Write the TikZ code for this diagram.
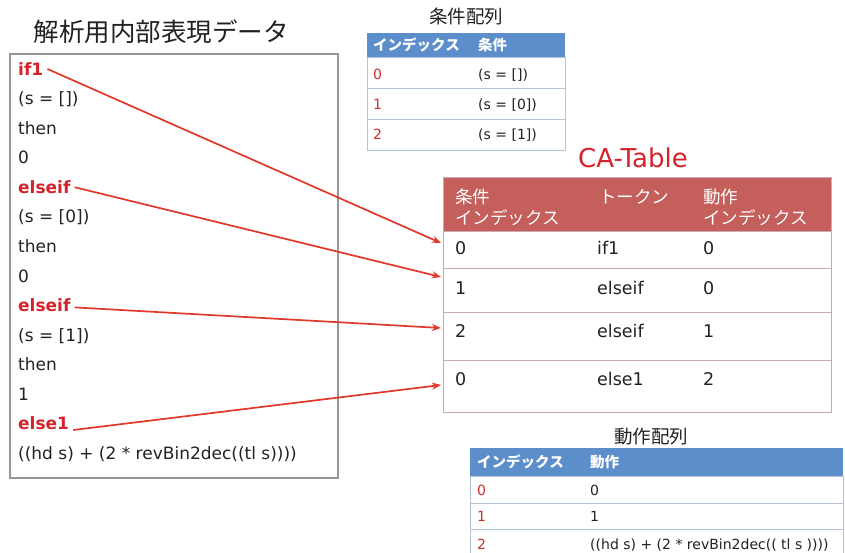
\documentclass[tikz,border=0pt]{standalone}
\usepackage{fontspec}
\setmainfont{DejaVu Sans}
\newfontfamily\jp{Noto Sans CJK JP}
\usetikzlibrary{arrows.meta}
\definecolor{redtxt}{HTML}{D3232B}
\definecolor{arrowred}{HTML}{E0382B}
\definecolor{bluehead}{HTML}{5B8ECB}
\definecolor{cahead}{HTML}{C55F5C}
\definecolor{blueline}{HTML}{B4C2D6}
\definecolor{caline}{HTML}{C9AAB2}
\definecolor{txt}{HTML}{222222}
\definecolor{idxred}{HTML}{C9302C}
\definecolor{boxline}{HTML}{959595}
\begin{document}
\begin{tikzpicture}[x=1pt,y=-1pt,
  code/.style={anchor=west, font=\fontsize{17}{20}\selectfont, text=txt, text height=12.4pt, text depth=0pt, inner xsep=2pt, inner ysep=0pt},
  kw/.style={code, font=\bfseries\fontsize{17}{20}\selectfont, text=redtxt, inner xsep=4pt},
  arr/.style={draw=arrowred, line width=1.7pt, -{Stealth[length=9pt,width=7pt]}},
  cell/.style={anchor=north west, inner sep=0pt},
  smallrow/.style={cell, draw=blueline, line width=0.8pt, minimum width=198pt},
  actrow/.style={cell, draw=blueline, line width=0.8pt, minimum width=373pt},
  carow/.style={cell, draw=caline, line width=0.9pt, minimum width=388pt},
  stxt/.style={anchor=west, font=\fontsize{14}{16}\selectfont, text=txt, text height=10.2pt, text depth=0pt, inner sep=0pt},
  sidx/.style={stxt, text=idxred},
  shead/.style={anchor=west, font=\jp\bfseries\fontsize{14.5}{17}\selectfont, text=white, text height=11pt, text depth=0pt, inner sep=0pt},
  cahtxt/.style={anchor=west, font=\jp\fontsize{17.5}{20}\selectfont, text=white, text height=13.3pt, text depth=0pt, inner sep=0pt},
  catxt/.style={anchor=west, font=\fontsize{17.5}{20}\selectfont, text=txt, text height=12.8pt, text depth=0pt, inner sep=0pt},
  ttl/.style={font=\jp\fontsize{18.5}{22}\selectfont, text=txt, inner sep=0pt}
]
\useasboundingbox (0,0) rectangle (845,553);
\fill[white] (0,0) rectangle (845,553);

% ---- left: internal representation data
\node[font=\jp\fontsize{25.5}{30}\selectfont, text=txt, inner sep=0pt] (title) at (161,31.5) {解析用内部表現データ};
\node[cell, draw=boxline, line width=1.6pt, minimum width=328pt, minimum height=424pt] (box) at (9,53) {};

\node[kw]   (if1)  at (14,69)    {if1};
\node[code] (c1)   at (16,98.6)  {(s = [])};
\node[code] (t1)   at (16,128.1) {then};
\node[code] (v1)   at (16,157.7) {0};
\node[kw]   (eif1) at (14,187.2) {elseif};
\node[code] (c2)   at (16,216.8) {(s = [0])};
\node[code] (t2)   at (16,246.3) {then};
\node[code] (v2)   at (16,275.9) {0};
\node[kw]   (eif2) at (14,305.4) {elseif};
\node[code] (c3)   at (16,335)   {(s = [1])};
\node[code] (t3)   at (16,364.5) {then};
\node[code] (v3)   at (16,394.1) {1};
\node[kw]   (els)  at (14,423.6) {else1};
\node[code] (v4)   at (16,453.2) {((hd s) + (2 * revBin2dec((tl s))))};

% ---- condition array
\node[ttl] (condttl) at (466,16) {条件配列};
\node[cell, fill=bluehead, minimum width=198pt, minimum height=24pt] (condh) at (367,33) {};
\node[shead] (condh1) at (373,45) {インデックス};
\node[shead] (condh2) at (478,45) {条件};
\node[smallrow, minimum height=31pt] (cr0) at (367,57) {};
\node[smallrow, minimum height=31pt] (cr1) at (367,88) {};
\node[smallrow, minimum height=31pt] (cr2) at (367,119) {};
\node[sidx] (ci0) at (373,74)  {0};
\node[stxt] (cc0) at (478,74)  {(s = [])};
\node[sidx] (ci1) at (373,104) {1};
\node[stxt] (cc1) at (478,104) {(s = [0])};
\node[sidx] (ci2) at (373,134) {2};
\node[stxt] (cc2) at (478,134) {(s = [1])};

% ---- CA-Table
\node[font=\fontsize{26}{30}\selectfont, text=redtxt, inner sep=0pt] (catitle) at (633,158) {CA-Table};
\node[cell, fill=cahead, draw=caline, line width=0.9pt, minimum width=388pt, minimum height=54pt] (cah) at (443,177) {};
\node[cahtxt] (ch1a) at (455,197) {条件};
\node[cahtxt] (ch1b) at (455,218) {インデックス};
\node[cahtxt] (ch2)  at (599,197) {トークン};
\node[cahtxt] (ch3a) at (703,197) {動作};
\node[cahtxt] (ch3b) at (703,218) {インデックス};
\node[carow, minimum height=37pt] (r0) at (443,231) {};
\node[carow, minimum height=44pt] (r1) at (443,268) {};
\node[carow, minimum height=48pt] (r2) at (443,312) {};
\node[carow, minimum height=52pt] (r3) at (443,360) {};
\node[catxt] (r0a) at (455,248.5) {0};
\node[catxt] (r0b) at (597,248.5) {if1};
\node[catxt] (r0c) at (703,248.5) {0};
\node[catxt] (r1a) at (455,288) {1};
\node[catxt] (r1b) at (597,288) {elseif};
\node[catxt] (r1c) at (703,288) {0};
\node[catxt] (r2a) at (455,331) {2};
\node[catxt] (r2b) at (597,331) {elseif};
\node[catxt] (r2c) at (703,331) {1};
\node[catxt] (r3a) at (455,379) {0};
\node[catxt] (r3b) at (597,379) {else1};
\node[catxt] (r3c) at (703,379) {2};

% ---- action array
\node[ttl] (actttl) at (651,437) {動作配列};
\begin{scope}
\clip (0,0) rectangle (845,553);
\node[cell, fill=bluehead, minimum width=373pt, minimum height=28pt] (acth) at (470,448) {};
\node[shead] (acth1) at (477,462) {インデックス};
\node[shead] (acth2) at (590,462) {動作};
\node[actrow, minimum height=27pt] (ar0) at (470,476) {};
\node[actrow, minimum height=26pt] (ar1) at (470,503) {};
\node[actrow, minimum height=28pt] (ar2) at (470,529) {};
\end{scope}
\node[sidx] (ai0) at (477,490) {0};
\node[stxt] (aa0) at (590,490) {0};
\node[sidx] (ai1) at (477,516) {1};
\node[stxt] (aa1) at (590,516) {1};
\node[sidx] (ai2) at (477,544) {2};
\node[stxt] (aa2) at (590,544) {((hd s) + (2 * revBin2dec(( tl s ))))};

% ---- connectors
\coordinate (a0) at (441,243);
\coordinate (a1) at (441,277);
\coordinate (a2) at (441,328);
\coordinate (a3) at (441,385);
\draw[arr] (if1.east) -- (a0);
\draw[arr] (eif1.east) -- (a1);
\draw[arr] ([yshift=-2pt]eif2.east) -- (a2);
\draw[arr] (els.south east) -- (a3);
\end{tikzpicture}
\end{document}
